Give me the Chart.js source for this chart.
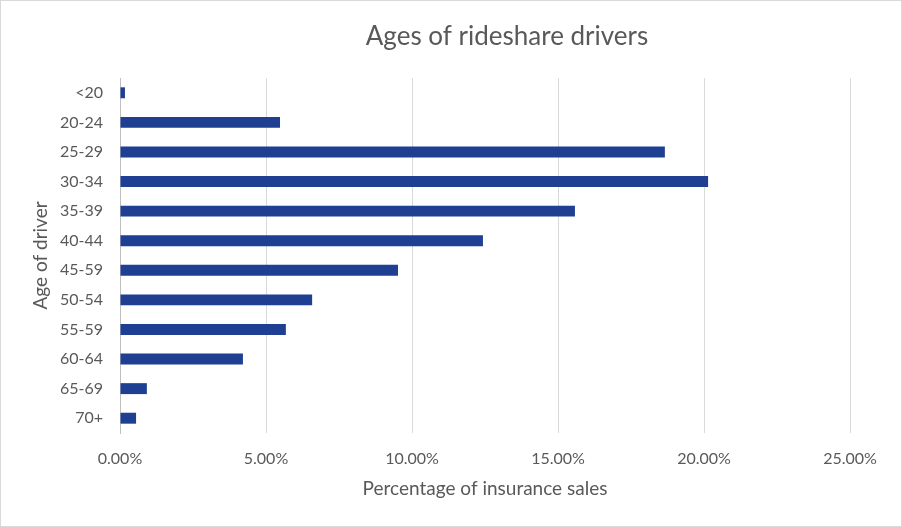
<!DOCTYPE html>
<html>
<head>
<meta charset="utf-8">
<script src="https://cdn.jsdelivr.net/npm/chart.js@4"></script>
<style>
  html, body { margin: 0; padding: 0; background: #fff; }
  #wrap { width: 902px; height: 527px; box-sizing: border-box; border: 1px solid #d9d9d9; }
  canvas { display: block; }
</style>
</head>
<body>
<div id="wrap"><canvas id="c" width="900" height="525"></canvas></div>
<script>
const categories = ['<20','20-24','25-29','30-34','35-39','40-44','45-59','50-54','55-59','60-64','65-69','70+'];
const shares = [0.0017, 0.0548, 0.1866, 0.2014, 0.1558, 0.1243, 0.0952, 0.0658, 0.0568, 0.0421, 0.0092, 0.0055];
const xTicks = [0, 0.05, 0.10, 0.15, 0.20, 0.25];
const chartTitle = 'Ages of rideshare drivers';
const xTitle = 'Percentage of insurance sales';
const yTitle = 'Age of driver';

const FONT = 'Lato, "Open Sans", sans-serif';
const GREY = '#595959';

const titlePlugin = {
  id: 'customTitle',
  afterDraw(chart) {
    const ctx = chart.ctx;
    ctx.save();
    ctx.font = '26px ' + FONT;
    ctx.fillStyle = GREY;
    ctx.textAlign = 'center';
    ctx.textBaseline = 'middle';
    ctx.fillText(chartTitle, 506, 36);
    ctx.restore();
  }
};

new Chart(document.getElementById('c'), {
  type: 'bar',
  data: {
    labels: categories,
    datasets: [{
      data: shares,
      backgroundColor: '#1f3f92',
      borderWidth: 0,
      barPercentage: 0.37,
      categoryPercentage: 1
    }]
  },
  plugins: [titlePlugin],
  options: {
    indexAxis: 'y',
    responsive: false,
    animation: false,
    layout: { padding: { top: 77, right: 51, bottom: 0, left: 0 } },
    plugins: { legend: { display: false }, tooltip: { enabled: false } },
    scales: {
      x: {
        min: 0, max: 0.25,
        afterBuildTicks: s => { s.ticks = xTicks.map(v => ({ value: v })); },
        afterFit: s => { s.height = 93; },
        grid: { color: '#d9d9d9', lineWidth: 1, drawTicks: false },
        border: { display: false },
        ticks: {
          padding: 16,
          color: GREY,
          font: { family: FONT, size: 16 },
          callback: v => (v * 100).toFixed(2) + '%'
        },
        title: {
          display: true, text: xTitle, color: GREY,
          font: { family: FONT, size: 19 },
          padding: { top: 0, bottom: 26 }
        }
      },
      y: {
        afterFit: s => { s.width = 119; },
        grid: { display: false, drawTicks: false },
        border: { display: true, color: '#bfbfbf', width: 1 },
        ticks: {
          padding: 17,
          color: GREY,
          font: { family: FONT, size: 16 }
        },
        title: {
          display: true, text: yTitle, color: GREY,
          font: { family: FONT, size: 19 },
          padding: { top: 28, bottom: 0 }
        }
      }
    }
  }
});
</script>
</body>
</html>
